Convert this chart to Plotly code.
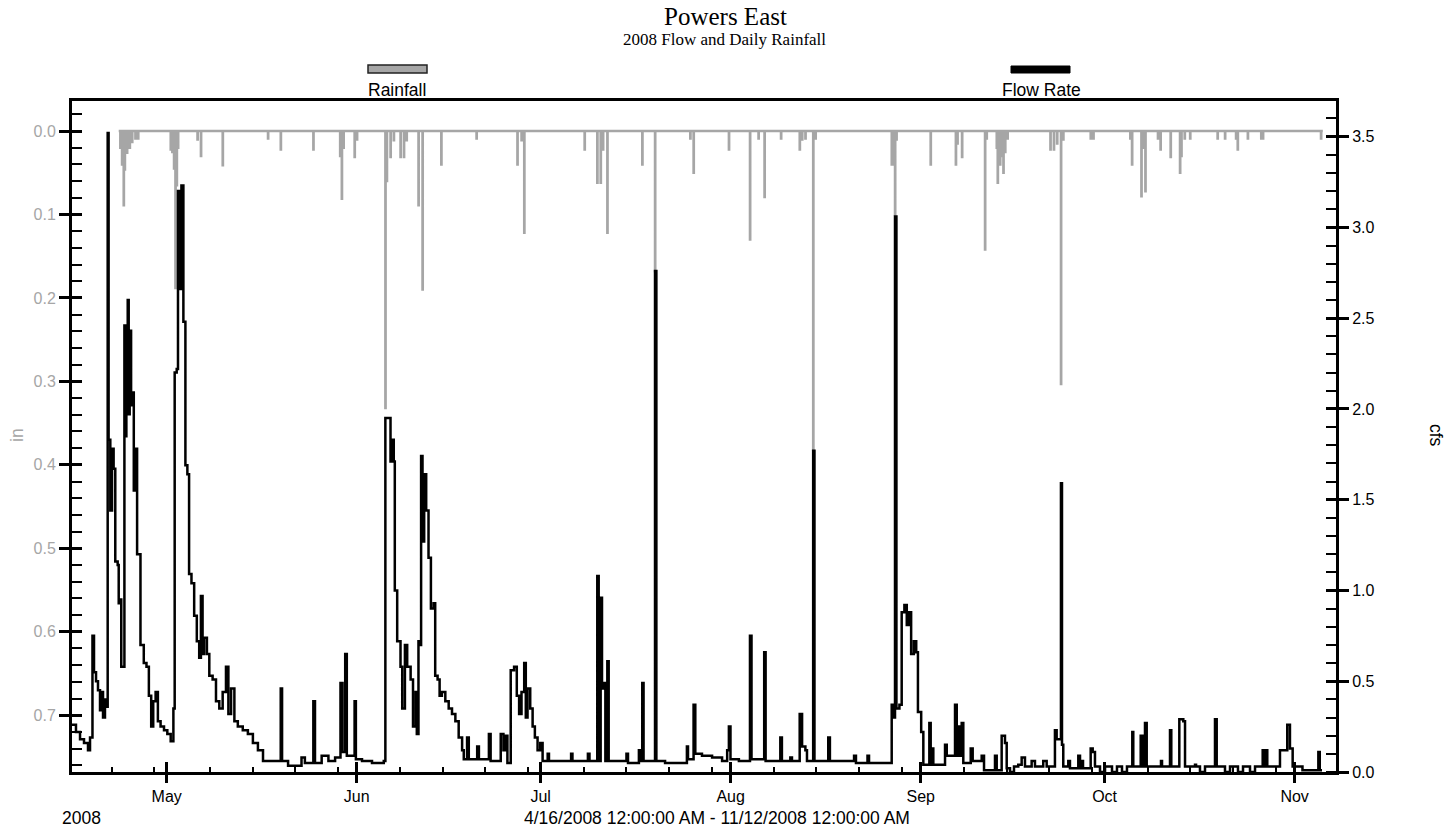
import plotly.graph_objects as go
import pandas as pd

# ---------------- data ----------------
START = pd.Timestamp("2008-04-15")          # day offsets below are days since this date

# Flow Rate (cfs) – step record
flow_days = [0.55, 1.20, 1.86, 2.51, 3.16, 3.49, 3.89, 4.14, 4.47, 4.79, 5.12, 5.28, 5.61, 5.93, 6.26, 6.37,
             6.52, 6.80, 7.08, 7.34, 7.61, 8.00, 8.17, 8.43, 8.59, 8.98, 9.10, 9.26, 9.42, 9.64, 9.80, 9.96,
             10.19, 10.40, 10.63, 10.84, 11.17, 11.50, 11.72, 12.26, 12.70, 13.09, 13.47, 13.80, 14.19, 14.56,
             15.00, 15.56, 16.10, 16.65, 17.09, 17.30, 17.63, 17.84, 18.07, 18.40, 18.72, 19.05, 19.37, 19.65,
             20.04, 20.48, 20.91, 21.30, 21.58, 21.85, 22.11, 22.56, 22.95, 23.49, 24.04, 24.58, 25.13, 25.67,
             26.06, 26.50, 27.04, 27.60, 28.41, 29.24, 30.06, 30.88, 31.71, 33.06, 34.60, 34.82, 35.80, 37.99,
             38.54, 39.92, 40.19, 41.28, 42.38, 43.47, 44.35, 44.68, 45.12, 45.38, 46.65, 46.86, 47.86, 49.49,
             51.41, 51.67, 52.23, 52.51, 52.78, 53.04, 53.21, 53.60, 54.14, 54.42, 54.86, 55.23, 55.79, 56.18,
             56.60, 56.80, 57.07, 57.34, 57.50, 57.73, 58.00, 58.33, 58.71, 59.10, 59.54, 59.80, 60.19, 60.52,
             60.89, 61.45, 62.00, 62.54, 63.09, 63.63, 64.19, 64.46, 65.00, 65.28, 66.65, 66.93, 68.56, 68.84,
             70.49, 70.93, 71.30, 71.58, 72.12, 72.67, 73.11, 73.49, 73.88, 74.32, 74.58, 74.86, 75.30, 75.69,
             76.06, 76.50, 76.94, 77.32, 78.15, 78.36, 81.97, 82.19, 84.71, 84.97, 86.24, 86.47, 86.79, 87.01,
             87.33, 87.56, 87.88, 88.10, 91.00, 91.25, 93.03, 93.29, 93.58, 93.79, 95.66, 95.88, 97.30, 100.86,
             101.04, 101.95, 102.23, 103.32, 104.97, 106.60, 107.43, 107.71, 107.97, 109.34, 111.15, 111.40,
             113.47, 113.70, 116.10, 116.36, 117.73, 118.00, 119.26, 119.65, 120.19, 120.45, 121.46, 121.67,
             123.92, 124.19, 128.13, 128.44, 130.32, 130.57, 132.51, 134.27, 134.60, 134.81, 135.04, 135.53,
             135.90, 136.34, 136.73, 137.06, 137.44, 137.88, 138.27, 138.55, 139.08, 139.43, 140.41, 140.63,
             140.84, 141.06, 142.97, 143.25, 144.60, 144.88, 145.14, 145.41, 145.69, 145.95, 147.16, 147.48,
             148.95, 149.33, 151.12, 151.40, 152.21, 152.75, 153.03, 153.57, 154.22, 154.92, 155.47, 156.01,
             157.10, 157.64, 158.99, 159.55, 160.90, 161.18, 161.88, 162.05, 162.26, 163.08, 163.35, 164.71,
             164.99, 165.26, 165.48, 166.73, 167.06, 167.43, 168.25, 169.07, 170.21, 171.02, 171.84, 172.65,
             173.52, 173.68, 174.89, 175.21, 175.59, 175.87, 178.20, 178.37, 179.67, 179.88, 181.19, 181.84,
             182.12, 183.75, 183.92, 184.56, 185.38, 187.01, 187.29, 188.64, 189.46, 190.76, 191.58, 192.72,
             193.54, 194.79, 195.00, 195.28, 195.54, 197.61, 198.80, 199.24, 199.68, 201.28, 203.87, 204.10,
             204.47]
flow_cfs = [0.26, 0.22, 0.18, 0.16, 0.12, 0.19, 0.75, 0.55, 0.50, 0.45, 0.34, 0.44, 0.30, 0.40, 0.36, 3.52,
            1.83, 1.44, 1.78, 1.67, 1.16, 1.14, 0.93, 0.95, 0.58, 0.58, 2.46, 1.85, 2.39, 2.60, 1.97, 2.43,
            2.02, 2.09, 1.55, 1.78, 1.20, 1.20, 0.70, 0.60, 0.58, 0.42, 0.25, 0.39, 0.44, 0.28,
            0.25, 0.23, 0.21, 0.17, 0.35, 2.20, 2.22, 3.20, 2.66, 3.23, 2.48, 1.69, 1.64, 1.09,
            1.04, 0.86, 0.72, 0.63, 0.97, 0.65, 0.74, 0.65, 0.53, 0.51, 0.39, 0.35, 0.44, 0.58,
            0.32, 0.46, 0.28, 0.25, 0.23, 0.21, 0.16, 0.12, 0.06, 0.06, 0.46, 0.06, 0.035, 0.08,
            0.05, 0.39, 0.05, 0.09, 0.06, 0.08, 0.49, 0.11, 0.65, 0.09, 0.39, 0.07, 0.06, 0.05,
            0.06, 1.95, 1.95, 1.71, 1.83, 1.71, 1.00, 0.72, 0.58, 0.35, 0.70, 0.58, 0.51, 0.25,
            0.44, 0.21, 0.72, 0.70, 1.74, 1.27, 1.64, 1.44, 1.18, 0.90, 0.93, 0.53, 0.51, 0.42,
            0.44, 0.39, 0.35, 0.32, 0.28, 0.19, 0.12, 0.07, 0.19, 0.07, 0.14, 0.07, 0.21, 0.06,
            0.21, 0.12, 0.20, 0.05, 0.56, 0.58, 0.42, 0.32, 0.44, 0.60, 0.30, 0.46, 0.35, 0.25,
            0.19, 0.12, 0.16, 0.06, 0.10, 0.06, 0.10, 0.06, 0.10, 0.06, 1.08, 0.06, 0.96, 0.46,
            0.49, 0.06, 0.61, 0.06, 0.10, 0.05, 0.12, 0.06, 0.49, 0.06, 2.76, 0.06, 0.05, 0.14,
            0.07, 0.37, 0.10, 0.09, 0.08, 0.06, 0.12, 0.25, 0.07, 0.06, 0.75, 0.07,
            0.66, 0.06, 0.19, 0.06, 0.08, 0.06, 0.32, 0.14, 0.12, 0.06, 1.77, 0.06,
            0.19, 0.06, 0.09, 0.05, 0.09, 0.05, 0.05, 0.37, 0.30, 3.06, 0.35, 0.37,
            0.88, 0.92, 0.81, 0.88, 0.65, 0.72, 0.66, 0.33, 0.22, 0.04, 0.27, 0.04,
            0.13, 0.04, 0.15, 0.09, 0.37, 0.09, 0.25, 0.09, 0.27, 0.05, 0.13, 0.06,
            0.09, 0.01, 0.09, 0.01, 0.20, 0.16, 0.02, 0.00, 0.03, 0.04, 0.08, 0.03,
            0.06, 0.03, 0.06, 0.03, 0.23, 0.18, 1.59, 0.15, 0.03, 0.06, 0.02, 0.09,
            0.02, 0.06, 0.02, 0.13, 0.11, 0.03, 0.00, 0.03, 0.00, 0.03, 0.00, 0.03,
            0.22, 0.03, 0.20, 0.03, 0.27, 0.03, 0.06, 0.03, 0.23, 0.03, 0.29, 0.28,
            0.03, 0.04, 0.03, 0.00, 0.03, 0.29, 0.03, 0.00, 0.03, 0.00, 0.03, 0.00,
            0.03, 0.12, 0.03, 0.12, 0.03, 0.12, 0.26, 0.13, 0.03, 0.01, 0.11, 0.01,
            0.01]

# Rainfall (in) – individual rain readings; zero between them
rain_record_days = [8.17, 204.6]
rain_days = [8.43, 8.71, 8.98, 9.15, 9.52, 9.96, 10.35, 10.89, 11.33, 16.65, 16.91, 17.19, 17.42, 17.63,
             17.84, 21.02, 21.58, 25.13, 32.52, 34.60, 39.92, 44.29, 44.56, 44.84, 46.65, 47.03, 51.67,
             51.90, 52.51, 53.04, 54.14, 54.69, 55.13, 57.07, 57.73, 60.79, 66.54, 73.21, 73.88, 74.32,
             84.17, 86.24, 86.79, 87.17, 87.88, 93.58, 95.66, 101.41, 101.95, 107.71, 111.15, 112.54,
             113.52, 116.21, 119.26, 119.65, 120.19, 121.46, 121.84, 134.27, 134.60, 134.81, 135.04,
             140.62, 144.73, 144.99, 145.74, 149.49, 149.75, 151.40, 151.56, 151.95, 152.21, 152.49,
             152.77, 153.16, 160.16, 160.72, 161.25, 161.88, 162.25, 166.73, 167.17, 173.19, 173.47,
             175.00, 175.39, 175.65, 177.70, 178.12, 179.77, 181.30, 181.52, 182.06, 182.95, 187.43,
             188.64, 190.44, 190.71, 192.36, 194.55, 194.83, 204.30]
rain_in = [0.020, 0.040, 0.089, 0.046, 0.026, 0.020, 0.013, 0.009, 0.009, 0.022, 0.025, 0.045, 0.188, 0.065,
           0.020, 0.010, 0.030, 0.041, 0.009, 0.022, 0.022, 0.030, 0.081, 0.020, 0.031, 0.010, 0.332,
           0.060, 0.031, 0.011, 0.031, 0.031, 0.011, 0.089, 0.190, 0.040, 0.009, 0.040, 0.011, 0.122,
           0.022, 0.062, 0.062, 0.022, 0.122, 0.040, 0.168, 0.009, 0.050, 0.022, 0.130, 0.009,
           0.079, 0.009, 0.022, 0.010, 0.009, 0.382, 0.009, 0.040, 0.040, 0.100, 0.010,
           0.040, 0.040, 0.015, 0.031, 0.142, 0.009, 0.020, 0.062, 0.040, 0.030, 0.050,
           0.025, 0.009, 0.022, 0.022, 0.015, 0.303, 0.010, 0.009, 0.009, 0.009, 0.040,
           0.078, 0.020, 0.072, 0.009, 0.022, 0.031, 0.050, 0.030, 0.009, 0.009, 0.009,
           0.009, 0.009, 0.022, 0.009, 0.009, 0.009, 0.009]

month_ticks = ["2008-05-01", "2008-06-01", "2008-07-01", "2008-08-01", "2008-09-01", "2008-10-01", "2008-11-01"]
month_labels = ["May", "Jun", "Jul", "Aug", "Sep", "Oct", "Nov"]
week_days_of_month = [8, 15, 22, 29]

# ---------------- build series ----------------
def to_time(days):
    return [START + pd.Timedelta(days=float(d)) for d in days]

flow_t = to_time(flow_days)

rain_d = [rain_record_days[0]]
rain_v = [0.0]
for d, v in zip(rain_days, rain_in):
    rain_d += [d, d + 1.0 / 24]
    rain_v += [v, 0.0]
rain_d.append(rain_record_days[1])
rain_v.append(0.0)
rain_t = to_time(rain_d)

x_range = [START + pd.Timedelta(days=0.55), START + pd.Timedelta(days=206.75)]
minor_ticks = [pd.Timestamp(2008, m, d) for m in range(4, 12) for d in week_days_of_month
               if x_range[0] <= pd.Timestamp(2008, m, d) <= x_range[1]]

LEFT_RANGE = [0.768, -0.036]
RIGHT_RANGE = [0, 3.696]
GRAY = "#a6a6a6"
SANS = "Liberation Sans, Arial, sans-serif"
SERIF = "Liberation Serif, Times New Roman, serif"
TICK_SIZE = 16
TEXT_SIZE = 17.5

fig = go.Figure()
fig.add_trace(go.Scatter(x=rain_t, y=rain_v, mode="lines", line=dict(color=GRAY, width=2.5, shape="hv"),
                         name="Rainfall", xaxis="x", yaxis="y", showlegend=False))
fig.add_trace(go.Scatter(x=flow_t, y=flow_cfs, mode="lines", line=dict(color="black", width=2.5, shape="hv"),
                         name="Flow Rate", xaxis="x", yaxis="y2", showlegend=False))
# empty helper traces so the inner-tick overlay axes are drawn
fig.add_trace(go.Scatter(x=[], y=[], xaxis="x2", yaxis="y3", showlegend=False, hoverinfo="skip"))
fig.add_trace(go.Scatter(x=[], y=[], xaxis="x2", yaxis="y4", showlegend=False, hoverinfo="skip"))

tick_common = dict(showgrid=False, zeroline=False, tickcolor="black", tickwidth=2.5)

fig.update_layout(
    width=1450, height=827,
    margin=dict(l=72, r=114, t=101, b=55),
    paper_bgcolor="white", plot_bgcolor="white",
    showlegend=False,
    font=dict(family=SANS, size=TICK_SIZE, color="black"),
    xaxis=dict(type="date", range=x_range, tickmode="array", tickvals=month_ticks, ticktext=month_labels,
               ticks="outside", ticklen=8, showline=True, linewidth=3, linecolor="black", mirror=True,
               tickfont=dict(size=TICK_SIZE, color="black"),
               minor=dict(tickmode="array", tickvals=minor_ticks, ticks="inside", ticklen=5,
                          tickwidth=2, tickcolor="black"),
               **tick_common),
    xaxis2=dict(type="date", range=x_range, overlaying="x", anchor="y", side="bottom", tickmode="array",
                tickvals=month_ticks, ticks="inside", ticklen=10, showticklabels=False, showline=False,
                **tick_common),
    yaxis=dict(range=LEFT_RANGE, tick0=0, dtick=0.1, tickformat=".1f", ticks="outside", ticklen=10,
               showline=True, linewidth=3, linecolor="black",
               tickfont=dict(size=TICK_SIZE, color=GRAY),
               minor=dict(tick0=0, dtick=0.02, ticks="inside", ticklen=10, tickwidth=2, tickcolor="black"),
               **tick_common),
    yaxis2=dict(range=RIGHT_RANGE, overlaying="y", side="right", anchor="x", tick0=0, dtick=0.5,
                tickformat=".1f", ticks="outside", ticklen=10, showline=True, linewidth=3, linecolor="black",
                tickfont=dict(size=TICK_SIZE, color="black"),
                minor=dict(tick0=0, dtick=0.1, ticks="inside", ticklen=10, tickwidth=2, tickcolor="black"),
                **tick_common),
    yaxis3=dict(range=LEFT_RANGE, overlaying="y", side="left", anchor="x", tick0=0, dtick=0.1,
                ticks="inside", ticklen=10, showticklabels=False, showline=False, **tick_common),
    yaxis4=dict(range=RIGHT_RANGE, overlaying="y", side="right", anchor="x", tick0=0, dtick=0.5,
                ticks="inside", ticklen=10, showticklabels=False, showline=False, **tick_common),
)

PW, PH, ML, MB = 1450 - 72 - 114, 827 - 101 - 55, 72, 55
def px(xp):
    return (xp - ML) / PW
def py(yp):
    return (827 - MB - yp) / PH

ann = [
    dict(text="Powers East", x=px(725), y=py(17), font=dict(family=SERIF, size=25)),
    dict(text="2008 Flow and Daily Rainfall", x=px(724), y=py(39), font=dict(family=SERIF, size=17)),
    dict(text="Rainfall", x=px(397), y=py(90), font=dict(family=SANS, size=TEXT_SIZE)),
    dict(text="Flow Rate", x=px(1041), y=py(90), font=dict(family=SANS, size=TEXT_SIZE)),
    dict(text="in", x=px(17), y=py(435), textangle=-90, font=dict(family=SANS, size=TEXT_SIZE, color=GRAY)),
    dict(text="cfs", x=px(1436), y=py(435), textangle=90, font=dict(family=SANS, size=TEXT_SIZE)),
    dict(text="2008", x=px(81), y=py(818), font=dict(family=SANS, size=TEXT_SIZE)),
    dict(text="4/16/2008 12:00:00 AM - 11/12/2008 12:00:00 AM", x=px(717), y=py(818),
         font=dict(family=SANS, size=TEXT_SIZE)),
]
for a in ann:
    a.update(xref="paper", yref="paper", showarrow=False, xanchor="center", yanchor="middle")
fig.update_layout(annotations=ann)

fig.update_layout(shapes=[
    dict(type="rect", xref="paper", yref="paper", x0=px(368), x1=px(427), y0=py(73), y1=py(65),
         line=dict(color="#222222", width=1.5), fillcolor=GRAY),
    dict(type="rect", xref="paper", yref="paper", x0=px(1011), x1=px(1070), y0=py(73), y1=py(66),
         line=dict(color="black", width=1), fillcolor="black"),
])

fig.write_html("out.html")
